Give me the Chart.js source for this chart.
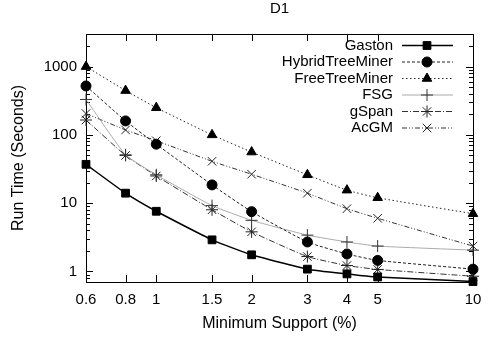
<!DOCTYPE html>
<html>
<head>
<meta charset="utf-8">
<script src="https://cdn.jsdelivr.net/npm/chart.js@4/dist/chart.umd.min.js"></script>
<style>
html,body{margin:0;padding:0;background:#fff;}
canvas{display:block;}
</style>
</head>
<body>
<canvas id="c" width="500" height="343"></canvas>
<script>
// ---- data ----
const supports = [0.6, 0.8, 1, 1.5, 2, 3, 4, 5, 10];
const xTickValues = [0.6, 0.8, 1, 1.5, 2, 3, 4, 5, 10];
const yTickValues = [1, 10, 100, 1000];
const seriesNames = ["Gaston", "HybridTreeMiner", "FreeTreeMiner", "FSG", "gSpan", "AcGM"];
const gaston = [37, 14, 7.6, 2.9, 1.75, 1.08, 0.92, 0.83, 0.71];
const hybridTreeMiner = [520, 160, 73, 18.5, 7.5, 2.7, 1.8, 1.45, 1.08];
const freeTreeMiner = [1000, 445, 250, 100, 56, 26, 15.5, 12, 7.0];
const fsg = [330, 51, 26, 9.2, 5.6, 3.4, 2.7, 2.35, 2.05];
const gSpan = [165, 50, 25, 8.0, 3.8, 1.65, 1.22, 1.07, 0.85];
const acgm = [205, 118, 82, 41, 26.5, 14, 8.3, 6.0, 2.35];

const FONT = "'Liberation Sans', Arial, sans-serif";

const styles = [
  {color:'#000', width:1.5, dash:[], point:'rect', radius:5.5, fill:'#000', pw:1},
  {color:'#222', width:1, dash:[3,2], point:'circle', radius:5, fill:'#000', pw:1},
  {color:'#222', width:1, dash:[1.5,2.5], point:'triangle', radius:5.5, fill:'#000', pw:1},
  {color:'#aaaaaa', width:1, dash:[], point:'cross', radius:6, fill:'#333', pw:1, pc:'#333'},
  {color:'#333', width:1, dash:[6,2,1,2], point:'star', radius:6, fill:'#333', pw:1, pc:'#222'},
  {color:'#333', width:1, dash:[5,2,1,2,1,2], point:'crossRot', radius:6, fill:'#333', pw:1, pc:'#222'}
];
const seriesValues = [gaston, hybridTreeMiner, freeTreeMiner, fsg, gSpan, acgm];

const datasets = seriesValues.map((vals, i) => {
  const s = styles[i];
  return {
    label: seriesNames[i],
    data: supports.map((x, j) => ({x: x, y: vals[j]})),
    borderColor: s.color,
    borderWidth: s.width,
    borderDash: s.dash,
    pointStyle: s.point,
    pointRadius: s.radius,
    pointBackgroundColor: s.fill,
    pointBorderColor: s.pc || s.fill,
    pointBorderWidth: s.pw,
    tension: 0.15,
    clip: false,
    fill: false
  };
});

function drawMarker(ctx, style, x, y, r, fill, stroke) {
  ctx.save();
  ctx.setLineDash([]);
  ctx.fillStyle = fill; ctx.strokeStyle = stroke; ctx.lineWidth = 1;
  ctx.beginPath();
  if (style === 'rect') {
    const h = r / Math.SQRT2;
    ctx.rect(x - h, y - h, 2*h, 2*h); ctx.fill(); ctx.stroke();
  } else if (style === 'circle') {
    ctx.arc(x, y, r, 0, Math.PI*2); ctx.fill(); ctx.stroke();
  } else if (style === 'triangle') {
    ctx.moveTo(x, y - r);
    ctx.lineTo(x + r*Math.sin(Math.PI*2/3), y - r*Math.cos(Math.PI*2/3));
    ctx.lineTo(x + r*Math.sin(Math.PI*4/3), y - r*Math.cos(Math.PI*4/3));
    ctx.closePath(); ctx.fill(); ctx.stroke();
  } else {
    const d = r * Math.SQRT1_2;
    if (style === 'cross' || style === 'star') {
      ctx.moveTo(x, y - r); ctx.lineTo(x, y + r);
      ctx.moveTo(x - r, y); ctx.lineTo(x + r, y);
    }
    if (style === 'crossRot' || style === 'star') {
      ctx.moveTo(x - d, y - d); ctx.lineTo(x + d, y + d);
      ctx.moveTo(x + d, y - d); ctx.lineTo(x - d, y + d);
    }
    ctx.stroke();
  }
  ctx.restore();
}

const framePlugin = {
  id: 'frame',
  beforeDatasetsDraw(chart) {
    const {ctx, chartArea: a, scales} = chart;
    ctx.save();
    ctx.strokeStyle = '#000';
    ctx.lineWidth = 1;
    ctx.setLineDash([]);
    ctx.beginPath();
    xTickValues.forEach(v => {
      const px = Math.round(scales.x.getPixelForValue(v)) + 0.5;
      ctx.moveTo(px, a.bottom); ctx.lineTo(px, a.bottom - 7);
      ctx.moveTo(px, a.top); ctx.lineTo(px, a.top + 7);
    });
    for (let dec = 0.1; dec <= 1000; dec *= 10) {
      for (let m = 1; m <= 9; m++) {
        const v = dec * m;
        if (v < scales.y.min || v > scales.y.max) continue;
        const py = Math.round(scales.y.getPixelForValue(v)) + 0.5;
        const len = (m === 1) ? 7 : 4;
        ctx.moveTo(a.left, py); ctx.lineTo(a.left + len, py);
        ctx.moveTo(a.right, py); ctx.lineTo(a.right - len, py);
      }
    }
    ctx.stroke();
    ctx.strokeRect(Math.round(a.left) + 0.5, Math.round(a.top) + 0.5,
                   Math.round(a.right - a.left), Math.round(a.bottom - a.top));
    ctx.restore();
  },
  afterDraw(chart) {
    const {ctx} = chart;
    const ds = chart.data.datasets;
    ctx.save();
    ctx.font = '15px ' + FONT;
    ctx.textAlign = 'right';
    ctx.textBaseline = 'middle';
    ds.forEach((d, i) => {
      const y = 45.5 + i * 16.5;
      ctx.fillStyle = '#000';
      ctx.fillText(d.label, 393, y);
      ctx.beginPath();
      ctx.strokeStyle = d.borderColor;
      ctx.lineWidth = d.borderWidth;
      ctx.setLineDash(d.borderDash);
      ctx.moveTo(402, y); ctx.lineTo(453, y);
      ctx.stroke();
      drawMarker(ctx, d.pointStyle, 427, y, d.pointRadius, d.pointBackgroundColor, d.pointBorderColor);
    });
    ctx.restore();
  }
};

new Chart(document.getElementById('c'), {
  type: 'line',
  data: {datasets: datasets},
  options: {
    responsive: false,
    animation: false,
    devicePixelRatio: 1,
    layout: {padding: {left: 0, right: 27, top: 0, bottom: 0}},
    plugins: {
      legend: {display: false},
      tooltip: {enabled: false},
      title: {
        display: true, text: 'D1', fullSize: false,
        color: '#000', font: {family: FONT, size: 15, weight: 'normal'},
        padding: {top: 0, bottom: 16}
      }
    },
    scales: {
      x: {
        type: 'logarithmic', min: 0.6, max: 10,
        afterBuildTicks: s => { s.ticks = xTickValues.map(v => ({value: v})); },
        afterFit: s => { s.height = 61; },
        ticks: {
          callback: v => String(v), color: '#000', padding: 9, maxRotation: 0, autoSkip: false,
          font: {family: FONT, size: 15}
        },
        grid: {display: false, drawTicks: false},
        border: {display: false},
        title: {display: true, text: 'Minimum Support (%)', color: '#000',
                font: {family: FONT, size: 16}, padding: {top: 0, bottom: 10}}
      },
      y: {
        type: 'logarithmic', min: 0.7, max: 3000,
        afterBuildTicks: s => { s.ticks = yTickValues.map(v => ({value: v})); },
        afterFit: s => { s.width = 86; },
        ticks: {
          callback: v => String(v), color: '#000', padding: 9, autoSkip: false,
          font: {family: FONT, size: 15}
        },
        grid: {display: false, drawTicks: false},
        border: {display: false},
        title: {display: true, text: 'Run Time (Seconds)', color: '#000',
                font: {family: FONT, size: 16}, padding: {top: 9, bottom: 0}}
      }
    }
  },
  plugins: [framePlugin]
});
</script>
</body>
</html>
